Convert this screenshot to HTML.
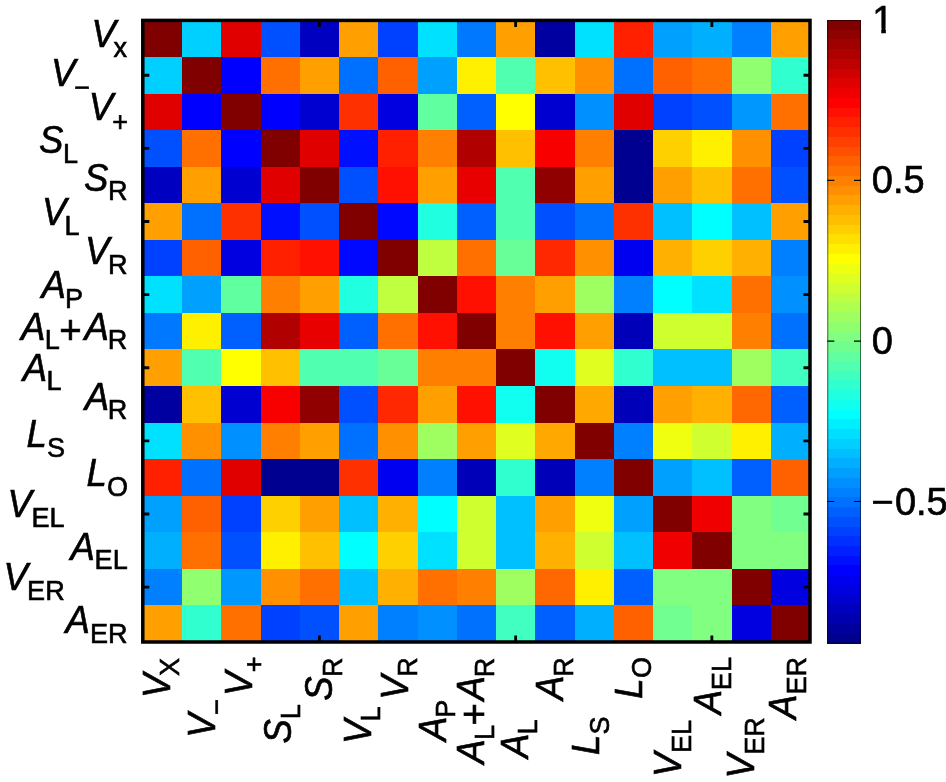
<!DOCTYPE html>
<html lang="en"><head><meta charset="utf-8"><title>Correlation matrix</title>
<style>html,body{margin:0;padding:0;background:#fff}body{width:946px;height:782px;overflow:hidden}svg{display:block}text{font-family:"Liberation Sans",Arial,Helvetica,sans-serif;fill:#000;stroke:#000;stroke-width:0.65px}.i{font-style:italic}.s{font-style:normal}</style>
</head><body>
<svg width="946" height="782" viewBox="0 0 946 782">
<rect width="946" height="782" fill="#fff"/>
<g shape-rendering="crispEdges">
<rect x="142.80" y="20.40" width="39.75" height="37.06" fill="#800000"/>
<rect x="182.05" y="20.40" width="39.75" height="37.06" fill="#00D0FF"/>
<rect x="221.29" y="20.40" width="39.75" height="37.06" fill="#E00000"/>
<rect x="260.54" y="20.40" width="39.75" height="37.06" fill="#0050FF"/>
<rect x="299.79" y="20.40" width="39.75" height="37.06" fill="#0000C0"/>
<rect x="339.04" y="20.40" width="39.75" height="37.06" fill="#FFA000"/>
<rect x="378.28" y="20.40" width="39.75" height="37.06" fill="#0040FF"/>
<rect x="417.53" y="20.40" width="39.75" height="37.06" fill="#00E0FF"/>
<rect x="456.78" y="20.40" width="39.75" height="37.06" fill="#0078FF"/>
<rect x="496.02" y="20.40" width="39.75" height="37.06" fill="#FFA000"/>
<rect x="535.27" y="20.40" width="39.75" height="37.06" fill="#0000A0"/>
<rect x="574.52" y="20.40" width="39.75" height="37.06" fill="#00E0FF"/>
<rect x="613.76" y="20.40" width="39.75" height="37.06" fill="#FF2000"/>
<rect x="653.01" y="20.40" width="39.75" height="37.06" fill="#00A0FF"/>
<rect x="692.26" y="20.40" width="39.75" height="37.06" fill="#00B0FF"/>
<rect x="731.51" y="20.40" width="39.75" height="37.06" fill="#0080FF"/>
<rect x="770.75" y="20.40" width="39.75" height="37.06" fill="#FFA000"/>
<rect x="142.80" y="56.96" width="39.75" height="37.06" fill="#00D0FF"/>
<rect x="182.05" y="56.96" width="39.75" height="37.06" fill="#800000"/>
<rect x="221.29" y="56.96" width="39.75" height="37.06" fill="#0000FF"/>
<rect x="260.54" y="56.96" width="39.75" height="37.06" fill="#FF7000"/>
<rect x="299.79" y="56.96" width="39.75" height="37.06" fill="#FFA000"/>
<rect x="339.04" y="56.96" width="39.75" height="37.06" fill="#0070FF"/>
<rect x="378.28" y="56.96" width="39.75" height="37.06" fill="#FF6000"/>
<rect x="417.53" y="56.96" width="39.75" height="37.06" fill="#00A0FF"/>
<rect x="456.78" y="56.96" width="39.75" height="37.06" fill="#FFF000"/>
<rect x="496.02" y="56.96" width="39.75" height="37.06" fill="#50FFB0"/>
<rect x="535.27" y="56.96" width="39.75" height="37.06" fill="#FFC000"/>
<rect x="574.52" y="56.96" width="39.75" height="37.06" fill="#FF9000"/>
<rect x="613.76" y="56.96" width="39.75" height="37.06" fill="#0070FF"/>
<rect x="653.01" y="56.96" width="39.75" height="37.06" fill="#FF6000"/>
<rect x="692.26" y="56.96" width="39.75" height="37.06" fill="#FF7000"/>
<rect x="731.51" y="56.96" width="39.75" height="37.06" fill="#90FF70"/>
<rect x="770.75" y="56.96" width="39.75" height="37.06" fill="#30FFD0"/>
<rect x="142.80" y="93.53" width="39.75" height="37.06" fill="#E00000"/>
<rect x="182.05" y="93.53" width="39.75" height="37.06" fill="#0000FF"/>
<rect x="221.29" y="93.53" width="39.75" height="37.06" fill="#800000"/>
<rect x="260.54" y="93.53" width="39.75" height="37.06" fill="#0000FF"/>
<rect x="299.79" y="93.53" width="39.75" height="37.06" fill="#0000D0"/>
<rect x="339.04" y="93.53" width="39.75" height="37.06" fill="#FF3000"/>
<rect x="378.28" y="93.53" width="39.75" height="37.06" fill="#0000E0"/>
<rect x="417.53" y="93.53" width="39.75" height="37.06" fill="#60FFA0"/>
<rect x="456.78" y="93.53" width="39.75" height="37.06" fill="#0060FF"/>
<rect x="496.02" y="93.53" width="39.75" height="37.06" fill="#FFFF00"/>
<rect x="535.27" y="93.53" width="39.75" height="37.06" fill="#0000D0"/>
<rect x="574.52" y="93.53" width="39.75" height="37.06" fill="#0090FF"/>
<rect x="613.76" y="93.53" width="39.75" height="37.06" fill="#E00000"/>
<rect x="653.01" y="93.53" width="39.75" height="37.06" fill="#0040FF"/>
<rect x="692.26" y="93.53" width="39.75" height="37.06" fill="#0050FF"/>
<rect x="731.51" y="93.53" width="39.75" height="37.06" fill="#0098FF"/>
<rect x="770.75" y="93.53" width="39.75" height="37.06" fill="#FF7000"/>
<rect x="142.80" y="130.09" width="39.75" height="37.06" fill="#0050FF"/>
<rect x="182.05" y="130.09" width="39.75" height="37.06" fill="#FF7000"/>
<rect x="221.29" y="130.09" width="39.75" height="37.06" fill="#0000FF"/>
<rect x="260.54" y="130.09" width="39.75" height="37.06" fill="#800000"/>
<rect x="299.79" y="130.09" width="39.75" height="37.06" fill="#E00000"/>
<rect x="339.04" y="130.09" width="39.75" height="37.06" fill="#0010FF"/>
<rect x="378.28" y="130.09" width="39.75" height="37.06" fill="#FF2000"/>
<rect x="417.53" y="130.09" width="39.75" height="37.06" fill="#FF8000"/>
<rect x="456.78" y="130.09" width="39.75" height="37.06" fill="#B00000"/>
<rect x="496.02" y="130.09" width="39.75" height="37.06" fill="#FFC000"/>
<rect x="535.27" y="130.09" width="39.75" height="37.06" fill="#F80000"/>
<rect x="574.52" y="130.09" width="39.75" height="37.06" fill="#FF8000"/>
<rect x="613.76" y="130.09" width="39.75" height="37.06" fill="#000090"/>
<rect x="653.01" y="130.09" width="39.75" height="37.06" fill="#FFD000"/>
<rect x="692.26" y="130.09" width="39.75" height="37.06" fill="#FFF000"/>
<rect x="731.51" y="130.09" width="39.75" height="37.06" fill="#FF9000"/>
<rect x="770.75" y="130.09" width="39.75" height="37.06" fill="#0040FF"/>
<rect x="142.80" y="166.66" width="39.75" height="37.06" fill="#0000C0"/>
<rect x="182.05" y="166.66" width="39.75" height="37.06" fill="#FFA000"/>
<rect x="221.29" y="166.66" width="39.75" height="37.06" fill="#0000D0"/>
<rect x="260.54" y="166.66" width="39.75" height="37.06" fill="#E00000"/>
<rect x="299.79" y="166.66" width="39.75" height="37.06" fill="#800000"/>
<rect x="339.04" y="166.66" width="39.75" height="37.06" fill="#0050FF"/>
<rect x="378.28" y="166.66" width="39.75" height="37.06" fill="#FF1000"/>
<rect x="417.53" y="166.66" width="39.75" height="37.06" fill="#FFA000"/>
<rect x="456.78" y="166.66" width="39.75" height="37.06" fill="#E80000"/>
<rect x="496.02" y="166.66" width="39.75" height="37.06" fill="#50FFB0"/>
<rect x="535.27" y="166.66" width="39.75" height="37.06" fill="#900000"/>
<rect x="574.52" y="166.66" width="39.75" height="37.06" fill="#FFA000"/>
<rect x="613.76" y="166.66" width="39.75" height="37.06" fill="#000090"/>
<rect x="653.01" y="166.66" width="39.75" height="37.06" fill="#FFA000"/>
<rect x="692.26" y="166.66" width="39.75" height="37.06" fill="#FFC000"/>
<rect x="731.51" y="166.66" width="39.75" height="37.06" fill="#FF7000"/>
<rect x="770.75" y="166.66" width="39.75" height="37.06" fill="#0050FF"/>
<rect x="142.80" y="203.22" width="39.75" height="37.06" fill="#FFA000"/>
<rect x="182.05" y="203.22" width="39.75" height="37.06" fill="#0070FF"/>
<rect x="221.29" y="203.22" width="39.75" height="37.06" fill="#FF3000"/>
<rect x="260.54" y="203.22" width="39.75" height="37.06" fill="#0010FF"/>
<rect x="299.79" y="203.22" width="39.75" height="37.06" fill="#0050FF"/>
<rect x="339.04" y="203.22" width="39.75" height="37.06" fill="#800000"/>
<rect x="378.28" y="203.22" width="39.75" height="37.06" fill="#0008FF"/>
<rect x="417.53" y="203.22" width="39.75" height="37.06" fill="#20FFE0"/>
<rect x="456.78" y="203.22" width="39.75" height="37.06" fill="#0060FF"/>
<rect x="496.02" y="203.22" width="39.75" height="37.06" fill="#50FFB0"/>
<rect x="535.27" y="203.22" width="39.75" height="37.06" fill="#0050FF"/>
<rect x="574.52" y="203.22" width="39.75" height="37.06" fill="#0070FF"/>
<rect x="613.76" y="203.22" width="39.75" height="37.06" fill="#FF3000"/>
<rect x="653.01" y="203.22" width="39.75" height="37.06" fill="#00C0FF"/>
<rect x="692.26" y="203.22" width="39.75" height="37.06" fill="#00FFFF"/>
<rect x="731.51" y="203.22" width="39.75" height="37.06" fill="#00C0FF"/>
<rect x="770.75" y="203.22" width="39.75" height="37.06" fill="#FFA000"/>
<rect x="142.80" y="239.79" width="39.75" height="37.06" fill="#0040FF"/>
<rect x="182.05" y="239.79" width="39.75" height="37.06" fill="#FF6000"/>
<rect x="221.29" y="239.79" width="39.75" height="37.06" fill="#0000E0"/>
<rect x="260.54" y="239.79" width="39.75" height="37.06" fill="#FF2000"/>
<rect x="299.79" y="239.79" width="39.75" height="37.06" fill="#FF1000"/>
<rect x="339.04" y="239.79" width="39.75" height="37.06" fill="#0008FF"/>
<rect x="378.28" y="239.79" width="39.75" height="37.06" fill="#800000"/>
<rect x="417.53" y="239.79" width="39.75" height="37.06" fill="#C0FF40"/>
<rect x="456.78" y="239.79" width="39.75" height="37.06" fill="#FF7000"/>
<rect x="496.02" y="239.79" width="39.75" height="37.06" fill="#68FF98"/>
<rect x="535.27" y="239.79" width="39.75" height="37.06" fill="#FF2800"/>
<rect x="574.52" y="239.79" width="39.75" height="37.06" fill="#FF9000"/>
<rect x="613.76" y="239.79" width="39.75" height="37.06" fill="#0000F0"/>
<rect x="653.01" y="239.79" width="39.75" height="37.06" fill="#FFB000"/>
<rect x="692.26" y="239.79" width="39.75" height="37.06" fill="#FFD000"/>
<rect x="731.51" y="239.79" width="39.75" height="37.06" fill="#FFB000"/>
<rect x="770.75" y="239.79" width="39.75" height="37.06" fill="#0080FF"/>
<rect x="142.80" y="276.35" width="39.75" height="37.06" fill="#00E0FF"/>
<rect x="182.05" y="276.35" width="39.75" height="37.06" fill="#00A0FF"/>
<rect x="221.29" y="276.35" width="39.75" height="37.06" fill="#60FFA0"/>
<rect x="260.54" y="276.35" width="39.75" height="37.06" fill="#FF8000"/>
<rect x="299.79" y="276.35" width="39.75" height="37.06" fill="#FFA000"/>
<rect x="339.04" y="276.35" width="39.75" height="37.06" fill="#20FFE0"/>
<rect x="378.28" y="276.35" width="39.75" height="37.06" fill="#C0FF40"/>
<rect x="417.53" y="276.35" width="39.75" height="37.06" fill="#800000"/>
<rect x="456.78" y="276.35" width="39.75" height="37.06" fill="#FF1000"/>
<rect x="496.02" y="276.35" width="39.75" height="37.06" fill="#FF8000"/>
<rect x="535.27" y="276.35" width="39.75" height="37.06" fill="#FFA000"/>
<rect x="574.52" y="276.35" width="39.75" height="37.06" fill="#A0FF60"/>
<rect x="613.76" y="276.35" width="39.75" height="37.06" fill="#0080FF"/>
<rect x="653.01" y="276.35" width="39.75" height="37.06" fill="#00FFFF"/>
<rect x="692.26" y="276.35" width="39.75" height="37.06" fill="#00E0FF"/>
<rect x="731.51" y="276.35" width="39.75" height="37.06" fill="#FF7000"/>
<rect x="770.75" y="276.35" width="39.75" height="37.06" fill="#0090FF"/>
<rect x="142.80" y="312.92" width="39.75" height="37.06" fill="#0078FF"/>
<rect x="182.05" y="312.92" width="39.75" height="37.06" fill="#FFF000"/>
<rect x="221.29" y="312.92" width="39.75" height="37.06" fill="#0060FF"/>
<rect x="260.54" y="312.92" width="39.75" height="37.06" fill="#B00000"/>
<rect x="299.79" y="312.92" width="39.75" height="37.06" fill="#E80000"/>
<rect x="339.04" y="312.92" width="39.75" height="37.06" fill="#0060FF"/>
<rect x="378.28" y="312.92" width="39.75" height="37.06" fill="#FF7000"/>
<rect x="417.53" y="312.92" width="39.75" height="37.06" fill="#FF1000"/>
<rect x="456.78" y="312.92" width="39.75" height="37.06" fill="#800000"/>
<rect x="496.02" y="312.92" width="39.75" height="37.06" fill="#FF8000"/>
<rect x="535.27" y="312.92" width="39.75" height="37.06" fill="#FF1000"/>
<rect x="574.52" y="312.92" width="39.75" height="37.06" fill="#FFA000"/>
<rect x="613.76" y="312.92" width="39.75" height="37.06" fill="#0000B8"/>
<rect x="653.01" y="312.92" width="39.75" height="37.06" fill="#D0FF30"/>
<rect x="692.26" y="312.92" width="39.75" height="37.06" fill="#D0FF30"/>
<rect x="731.51" y="312.92" width="39.75" height="37.06" fill="#FF8000"/>
<rect x="770.75" y="312.92" width="39.75" height="37.06" fill="#0070FF"/>
<rect x="142.80" y="349.48" width="39.75" height="37.06" fill="#FFA000"/>
<rect x="182.05" y="349.48" width="39.75" height="37.06" fill="#50FFB0"/>
<rect x="221.29" y="349.48" width="39.75" height="37.06" fill="#FFFF00"/>
<rect x="260.54" y="349.48" width="39.75" height="37.06" fill="#FFC000"/>
<rect x="299.79" y="349.48" width="39.75" height="37.06" fill="#50FFB0"/>
<rect x="339.04" y="349.48" width="39.75" height="37.06" fill="#50FFB0"/>
<rect x="378.28" y="349.48" width="39.75" height="37.06" fill="#68FF98"/>
<rect x="417.53" y="349.48" width="39.75" height="37.06" fill="#FF8000"/>
<rect x="456.78" y="349.48" width="39.75" height="37.06" fill="#FF8000"/>
<rect x="496.02" y="349.48" width="39.75" height="37.06" fill="#800000"/>
<rect x="535.27" y="349.48" width="39.75" height="37.06" fill="#10FFF0"/>
<rect x="574.52" y="349.48" width="39.75" height="37.06" fill="#E0FF20"/>
<rect x="613.76" y="349.48" width="39.75" height="37.06" fill="#30FFD0"/>
<rect x="653.01" y="349.48" width="39.75" height="37.06" fill="#00C0FF"/>
<rect x="692.26" y="349.48" width="39.75" height="37.06" fill="#00C0FF"/>
<rect x="731.51" y="349.48" width="39.75" height="37.06" fill="#A0FF60"/>
<rect x="770.75" y="349.48" width="39.75" height="37.06" fill="#40FFC0"/>
<rect x="142.80" y="386.05" width="39.75" height="37.06" fill="#0000A0"/>
<rect x="182.05" y="386.05" width="39.75" height="37.06" fill="#FFC000"/>
<rect x="221.29" y="386.05" width="39.75" height="37.06" fill="#0000D0"/>
<rect x="260.54" y="386.05" width="39.75" height="37.06" fill="#F80000"/>
<rect x="299.79" y="386.05" width="39.75" height="37.06" fill="#900000"/>
<rect x="339.04" y="386.05" width="39.75" height="37.06" fill="#0050FF"/>
<rect x="378.28" y="386.05" width="39.75" height="37.06" fill="#FF2800"/>
<rect x="417.53" y="386.05" width="39.75" height="37.06" fill="#FFA000"/>
<rect x="456.78" y="386.05" width="39.75" height="37.06" fill="#FF1000"/>
<rect x="496.02" y="386.05" width="39.75" height="37.06" fill="#10FFF0"/>
<rect x="535.27" y="386.05" width="39.75" height="37.06" fill="#800000"/>
<rect x="574.52" y="386.05" width="39.75" height="37.06" fill="#FFA800"/>
<rect x="613.76" y="386.05" width="39.75" height="37.06" fill="#0000B8"/>
<rect x="653.01" y="386.05" width="39.75" height="37.06" fill="#FFA000"/>
<rect x="692.26" y="386.05" width="39.75" height="37.06" fill="#FFB000"/>
<rect x="731.51" y="386.05" width="39.75" height="37.06" fill="#FF6800"/>
<rect x="770.75" y="386.05" width="39.75" height="37.06" fill="#0060FF"/>
<rect x="142.80" y="422.61" width="39.75" height="37.06" fill="#00E0FF"/>
<rect x="182.05" y="422.61" width="39.75" height="37.06" fill="#FF9000"/>
<rect x="221.29" y="422.61" width="39.75" height="37.06" fill="#0090FF"/>
<rect x="260.54" y="422.61" width="39.75" height="37.06" fill="#FF8000"/>
<rect x="299.79" y="422.61" width="39.75" height="37.06" fill="#FFA000"/>
<rect x="339.04" y="422.61" width="39.75" height="37.06" fill="#0070FF"/>
<rect x="378.28" y="422.61" width="39.75" height="37.06" fill="#FF9000"/>
<rect x="417.53" y="422.61" width="39.75" height="37.06" fill="#A0FF60"/>
<rect x="456.78" y="422.61" width="39.75" height="37.06" fill="#FFA000"/>
<rect x="496.02" y="422.61" width="39.75" height="37.06" fill="#E0FF20"/>
<rect x="535.27" y="422.61" width="39.75" height="37.06" fill="#FFA800"/>
<rect x="574.52" y="422.61" width="39.75" height="37.06" fill="#800000"/>
<rect x="613.76" y="422.61" width="39.75" height="37.06" fill="#0080FF"/>
<rect x="653.01" y="422.61" width="39.75" height="37.06" fill="#F0FF10"/>
<rect x="692.26" y="422.61" width="39.75" height="37.06" fill="#D0FF30"/>
<rect x="731.51" y="422.61" width="39.75" height="37.06" fill="#FFF000"/>
<rect x="770.75" y="422.61" width="39.75" height="37.06" fill="#00B0FF"/>
<rect x="142.80" y="459.18" width="39.75" height="37.06" fill="#FF2000"/>
<rect x="182.05" y="459.18" width="39.75" height="37.06" fill="#0070FF"/>
<rect x="221.29" y="459.18" width="39.75" height="37.06" fill="#E00000"/>
<rect x="260.54" y="459.18" width="39.75" height="37.06" fill="#000090"/>
<rect x="299.79" y="459.18" width="39.75" height="37.06" fill="#000090"/>
<rect x="339.04" y="459.18" width="39.75" height="37.06" fill="#FF3000"/>
<rect x="378.28" y="459.18" width="39.75" height="37.06" fill="#0000F0"/>
<rect x="417.53" y="459.18" width="39.75" height="37.06" fill="#0080FF"/>
<rect x="456.78" y="459.18" width="39.75" height="37.06" fill="#0000B8"/>
<rect x="496.02" y="459.18" width="39.75" height="37.06" fill="#30FFD0"/>
<rect x="535.27" y="459.18" width="39.75" height="37.06" fill="#0000B8"/>
<rect x="574.52" y="459.18" width="39.75" height="37.06" fill="#0080FF"/>
<rect x="613.76" y="459.18" width="39.75" height="37.06" fill="#800000"/>
<rect x="653.01" y="459.18" width="39.75" height="37.06" fill="#00A0FF"/>
<rect x="692.26" y="459.18" width="39.75" height="37.06" fill="#00C0FF"/>
<rect x="731.51" y="459.18" width="39.75" height="37.06" fill="#0060FF"/>
<rect x="770.75" y="459.18" width="39.75" height="37.06" fill="#FF6000"/>
<rect x="142.80" y="495.74" width="39.75" height="37.06" fill="#00A0FF"/>
<rect x="182.05" y="495.74" width="39.75" height="37.06" fill="#FF6000"/>
<rect x="221.29" y="495.74" width="39.75" height="37.06" fill="#0040FF"/>
<rect x="260.54" y="495.74" width="39.75" height="37.06" fill="#FFD000"/>
<rect x="299.79" y="495.74" width="39.75" height="37.06" fill="#FFA000"/>
<rect x="339.04" y="495.74" width="39.75" height="37.06" fill="#00C0FF"/>
<rect x="378.28" y="495.74" width="39.75" height="37.06" fill="#FFB000"/>
<rect x="417.53" y="495.74" width="39.75" height="37.06" fill="#00FFFF"/>
<rect x="456.78" y="495.74" width="39.75" height="37.06" fill="#D0FF30"/>
<rect x="496.02" y="495.74" width="39.75" height="37.06" fill="#00C0FF"/>
<rect x="535.27" y="495.74" width="39.75" height="37.06" fill="#FFA000"/>
<rect x="574.52" y="495.74" width="39.75" height="37.06" fill="#F0FF10"/>
<rect x="613.76" y="495.74" width="39.75" height="37.06" fill="#00A0FF"/>
<rect x="653.01" y="495.74" width="39.75" height="37.06" fill="#800000"/>
<rect x="692.26" y="495.74" width="39.75" height="37.06" fill="#F00000"/>
<rect x="731.51" y="495.74" width="39.75" height="37.06" fill="#80FF80"/>
<rect x="770.75" y="495.74" width="39.75" height="37.06" fill="#70FF90"/>
<rect x="142.80" y="532.31" width="39.75" height="37.06" fill="#00B0FF"/>
<rect x="182.05" y="532.31" width="39.75" height="37.06" fill="#FF7000"/>
<rect x="221.29" y="532.31" width="39.75" height="37.06" fill="#0050FF"/>
<rect x="260.54" y="532.31" width="39.75" height="37.06" fill="#FFF000"/>
<rect x="299.79" y="532.31" width="39.75" height="37.06" fill="#FFC000"/>
<rect x="339.04" y="532.31" width="39.75" height="37.06" fill="#00FFFF"/>
<rect x="378.28" y="532.31" width="39.75" height="37.06" fill="#FFD000"/>
<rect x="417.53" y="532.31" width="39.75" height="37.06" fill="#00E0FF"/>
<rect x="456.78" y="532.31" width="39.75" height="37.06" fill="#D0FF30"/>
<rect x="496.02" y="532.31" width="39.75" height="37.06" fill="#00C0FF"/>
<rect x="535.27" y="532.31" width="39.75" height="37.06" fill="#FFB000"/>
<rect x="574.52" y="532.31" width="39.75" height="37.06" fill="#D0FF30"/>
<rect x="613.76" y="532.31" width="39.75" height="37.06" fill="#00C0FF"/>
<rect x="653.01" y="532.31" width="39.75" height="37.06" fill="#F00000"/>
<rect x="692.26" y="532.31" width="39.75" height="37.06" fill="#800000"/>
<rect x="731.51" y="532.31" width="39.75" height="37.06" fill="#80FF80"/>
<rect x="770.75" y="532.31" width="39.75" height="37.06" fill="#80FF80"/>
<rect x="142.80" y="568.87" width="39.75" height="37.06" fill="#0080FF"/>
<rect x="182.05" y="568.87" width="39.75" height="37.06" fill="#90FF70"/>
<rect x="221.29" y="568.87" width="39.75" height="37.06" fill="#0098FF"/>
<rect x="260.54" y="568.87" width="39.75" height="37.06" fill="#FF9000"/>
<rect x="299.79" y="568.87" width="39.75" height="37.06" fill="#FF7000"/>
<rect x="339.04" y="568.87" width="39.75" height="37.06" fill="#00C0FF"/>
<rect x="378.28" y="568.87" width="39.75" height="37.06" fill="#FFB000"/>
<rect x="417.53" y="568.87" width="39.75" height="37.06" fill="#FF7000"/>
<rect x="456.78" y="568.87" width="39.75" height="37.06" fill="#FF8000"/>
<rect x="496.02" y="568.87" width="39.75" height="37.06" fill="#A0FF60"/>
<rect x="535.27" y="568.87" width="39.75" height="37.06" fill="#FF6800"/>
<rect x="574.52" y="568.87" width="39.75" height="37.06" fill="#FFF000"/>
<rect x="613.76" y="568.87" width="39.75" height="37.06" fill="#0060FF"/>
<rect x="653.01" y="568.87" width="39.75" height="37.06" fill="#80FF80"/>
<rect x="692.26" y="568.87" width="39.75" height="37.06" fill="#80FF80"/>
<rect x="731.51" y="568.87" width="39.75" height="37.06" fill="#800000"/>
<rect x="770.75" y="568.87" width="39.75" height="37.06" fill="#0000E0"/>
<rect x="142.80" y="605.44" width="39.75" height="37.06" fill="#FFA000"/>
<rect x="182.05" y="605.44" width="39.75" height="37.06" fill="#30FFD0"/>
<rect x="221.29" y="605.44" width="39.75" height="37.06" fill="#FF7000"/>
<rect x="260.54" y="605.44" width="39.75" height="37.06" fill="#0040FF"/>
<rect x="299.79" y="605.44" width="39.75" height="37.06" fill="#0050FF"/>
<rect x="339.04" y="605.44" width="39.75" height="37.06" fill="#FFA000"/>
<rect x="378.28" y="605.44" width="39.75" height="37.06" fill="#0080FF"/>
<rect x="417.53" y="605.44" width="39.75" height="37.06" fill="#0090FF"/>
<rect x="456.78" y="605.44" width="39.75" height="37.06" fill="#0070FF"/>
<rect x="496.02" y="605.44" width="39.75" height="37.06" fill="#40FFC0"/>
<rect x="535.27" y="605.44" width="39.75" height="37.06" fill="#0060FF"/>
<rect x="574.52" y="605.44" width="39.75" height="37.06" fill="#00B0FF"/>
<rect x="613.76" y="605.44" width="39.75" height="37.06" fill="#FF6000"/>
<rect x="653.01" y="605.44" width="39.75" height="37.06" fill="#70FF90"/>
<rect x="692.26" y="605.44" width="39.75" height="37.06" fill="#80FF80"/>
<rect x="731.51" y="605.44" width="39.75" height="37.06" fill="#0000E0"/>
<rect x="770.75" y="605.44" width="39.75" height="37.06" fill="#800000"/>
</g>
<g shape-rendering="crispEdges">
<rect x="827.3" y="20.00" width="33.70" height="10.24" fill="#800000"/>
<rect x="827.3" y="29.74" width="33.70" height="10.24" fill="#8F0000"/>
<rect x="827.3" y="39.48" width="33.70" height="10.24" fill="#9F0000"/>
<rect x="827.3" y="49.22" width="33.70" height="10.24" fill="#AF0000"/>
<rect x="827.3" y="58.96" width="33.70" height="10.24" fill="#BF0000"/>
<rect x="827.3" y="68.70" width="33.70" height="10.24" fill="#CF0000"/>
<rect x="827.3" y="78.44" width="33.70" height="10.24" fill="#DF0000"/>
<rect x="827.3" y="88.18" width="33.70" height="10.24" fill="#EF0000"/>
<rect x="827.3" y="97.92" width="33.70" height="10.24" fill="#FF0000"/>
<rect x="827.3" y="107.67" width="33.70" height="10.24" fill="#FF1000"/>
<rect x="827.3" y="117.41" width="33.70" height="10.24" fill="#FF2000"/>
<rect x="827.3" y="127.15" width="33.70" height="10.24" fill="#FF3000"/>
<rect x="827.3" y="136.89" width="33.70" height="10.24" fill="#FF4000"/>
<rect x="827.3" y="146.63" width="33.70" height="10.24" fill="#FF5000"/>
<rect x="827.3" y="156.37" width="33.70" height="10.24" fill="#FF6000"/>
<rect x="827.3" y="166.11" width="33.70" height="10.24" fill="#FF7000"/>
<rect x="827.3" y="175.85" width="33.70" height="10.24" fill="#FF8000"/>
<rect x="827.3" y="185.59" width="33.70" height="10.24" fill="#FF8F00"/>
<rect x="827.3" y="195.33" width="33.70" height="10.24" fill="#FF9F00"/>
<rect x="827.3" y="205.07" width="33.70" height="10.24" fill="#FFAF00"/>
<rect x="827.3" y="214.81" width="33.70" height="10.24" fill="#FFBF00"/>
<rect x="827.3" y="224.55" width="33.70" height="10.24" fill="#FFCF00"/>
<rect x="827.3" y="234.29" width="33.70" height="10.24" fill="#FFDF00"/>
<rect x="827.3" y="244.03" width="33.70" height="10.24" fill="#FFEF00"/>
<rect x="827.3" y="253.77" width="33.70" height="10.24" fill="#FFFF00"/>
<rect x="827.3" y="263.52" width="33.70" height="10.24" fill="#EFFF10"/>
<rect x="827.3" y="273.26" width="33.70" height="10.24" fill="#DFFF20"/>
<rect x="827.3" y="283.00" width="33.70" height="10.24" fill="#CFFF30"/>
<rect x="827.3" y="292.74" width="33.70" height="10.24" fill="#BFFF40"/>
<rect x="827.3" y="302.48" width="33.70" height="10.24" fill="#AFFF50"/>
<rect x="827.3" y="312.22" width="33.70" height="10.24" fill="#9FFF60"/>
<rect x="827.3" y="321.96" width="33.70" height="10.24" fill="#8FFF70"/>
<rect x="827.3" y="331.70" width="33.70" height="10.24" fill="#80FF80"/>
<rect x="827.3" y="341.44" width="33.70" height="10.24" fill="#70FF8F"/>
<rect x="827.3" y="351.18" width="33.70" height="10.24" fill="#60FF9F"/>
<rect x="827.3" y="360.92" width="33.70" height="10.24" fill="#50FFAF"/>
<rect x="827.3" y="370.66" width="33.70" height="10.24" fill="#40FFBF"/>
<rect x="827.3" y="380.40" width="33.70" height="10.24" fill="#30FFCF"/>
<rect x="827.3" y="390.14" width="33.70" height="10.24" fill="#20FFDF"/>
<rect x="827.3" y="399.88" width="33.70" height="10.24" fill="#10FFEF"/>
<rect x="827.3" y="409.62" width="33.70" height="10.24" fill="#00FFFF"/>
<rect x="827.3" y="419.37" width="33.70" height="10.24" fill="#00EFFF"/>
<rect x="827.3" y="429.11" width="33.70" height="10.24" fill="#00DFFF"/>
<rect x="827.3" y="438.85" width="33.70" height="10.24" fill="#00CFFF"/>
<rect x="827.3" y="448.59" width="33.70" height="10.24" fill="#00BFFF"/>
<rect x="827.3" y="458.33" width="33.70" height="10.24" fill="#00AFFF"/>
<rect x="827.3" y="468.07" width="33.70" height="10.24" fill="#009FFF"/>
<rect x="827.3" y="477.81" width="33.70" height="10.24" fill="#008FFF"/>
<rect x="827.3" y="487.55" width="33.70" height="10.24" fill="#0080FF"/>
<rect x="827.3" y="497.29" width="33.70" height="10.24" fill="#0070FF"/>
<rect x="827.3" y="507.03" width="33.70" height="10.24" fill="#0060FF"/>
<rect x="827.3" y="516.77" width="33.70" height="10.24" fill="#0050FF"/>
<rect x="827.3" y="526.51" width="33.70" height="10.24" fill="#0040FF"/>
<rect x="827.3" y="536.25" width="33.70" height="10.24" fill="#0030FF"/>
<rect x="827.3" y="545.99" width="33.70" height="10.24" fill="#0020FF"/>
<rect x="827.3" y="555.73" width="33.70" height="10.24" fill="#0010FF"/>
<rect x="827.3" y="565.48" width="33.70" height="10.24" fill="#0000FF"/>
<rect x="827.3" y="575.22" width="33.70" height="10.24" fill="#0000EF"/>
<rect x="827.3" y="584.96" width="33.70" height="10.24" fill="#0000DF"/>
<rect x="827.3" y="594.70" width="33.70" height="10.24" fill="#0000CF"/>
<rect x="827.3" y="604.44" width="33.70" height="10.24" fill="#0000BF"/>
<rect x="827.3" y="614.18" width="33.70" height="10.24" fill="#0000AF"/>
<rect x="827.3" y="623.92" width="33.70" height="10.24" fill="#00009F"/>
<rect x="827.3" y="633.66" width="33.70" height="10.24" fill="#00008F"/>
</g>
<rect x="827.8" y="20.5" width="32.70" height="622.40" fill="none" stroke="#000" stroke-opacity="0.55" stroke-width="1"/>
<clipPath id="c1"><rect x="872.3" y="0" width="30" height="28"/><rect x="881.3" y="0" width="4.5" height="40"/></clipPath>
<text x="872.3" y="32.8" font-size="38" clip-path="url(#c1)">1</text>
<path d="M827.3 180.3h7M861.0 180.3h-7" stroke="#000" stroke-width="1.2" fill="none"/>
<text x="871.8" y="193.3" font-size="38">0.5</text>
<path d="M827.3 341.2h7M861.0 341.2h-7" stroke="#000" stroke-width="1.2" fill="none"/>
<text x="871.8" y="354.2" font-size="38">0</text>
<path d="M827.3 501.5h7M861.0 501.5h-7" stroke="#000" stroke-width="1.2" fill="none"/>
<text x="871.5" y="514.5" font-size="38">−<tspan dx="1.2">0.5</tspan></text>
<rect x="142.8" y="20.4" width="667.20" height="621.60" fill="none" stroke="#000" stroke-width="3.5"/>
<path d="M142.8 75.25h6.5M810.0 75.25h-6.5M142.8 148.38h6.5M810.0 148.38h-6.5M142.8 221.51h6.5M810.0 221.51h-6.5M142.8 294.64h6.5M810.0 294.64h-6.5M142.8 367.76h6.5M810.0 367.76h-6.5M142.8 440.89h6.5M810.0 440.89h-6.5M142.8 514.02h6.5M810.0 514.02h-6.5M142.8 587.15h6.5M810.0 587.15h-6.5M319.41 20.4v6.5M319.41 642.0v-6.5M515.65 20.4v6.5M515.65 642.0v-6.5M711.88 20.4v6.5M711.88 642.0v-6.5" stroke="#000" stroke-width="2.8" fill="none"/>
<text transform="translate(91.38 47.35) scale(0.95 1)" font-size="38.5"><tspan class="i">V</tspan><tspan class="s" font-size="28.5" dy="9.5" dx="-2.3">x</tspan></text>
<text transform="translate(51.1 85.5) scale(0.95 1)" font-size="38.5"><tspan class="i">V</tspan><tspan class="s" font-size="28.5" dy="11.5" dx="-1.39">−</tspan></text>
<text transform="translate(88.65 119.5) scale(0.95 1)" font-size="38.5"><tspan class="i">V</tspan><tspan class="s" font-size="28.5" dy="11.5" dx="-0.74">+</tspan></text>
<text transform="translate(38.99 153.03) scale(0.95 1)" font-size="38.5"><tspan class="i">S</tspan><tspan class="s" font-size="28.5" dy="9.5" dx="-0.39">L</tspan></text>
<text transform="translate(84.12 190.59) scale(0.95 1)" font-size="38.5"><tspan class="i">S</tspan><tspan class="s" font-size="28.5" dy="9.5" dx="-0.66">R</tspan></text>
<text transform="translate(42.0 225.25) scale(0.95 1)" font-size="38.5"><tspan class="i">V</tspan><tspan class="s" font-size="28.5" dy="9.5" dx="-1.9">L</tspan></text>
<text transform="translate(84.89 264.15) scale(0.95 1)" font-size="38.5"><tspan class="i">V</tspan><tspan class="s" font-size="28.5" dy="9.5" dx="-1.26">R</tspan></text>
<text transform="translate(41.5 298.05) scale(0.95 1)" font-size="38.5"><tspan class="i">A</tspan><tspan class="s" font-size="28.5" dy="9.5" dx="-1.07">P</tspan></text>
<text transform="translate(21.12 339.95) scale(0.95 1)" font-size="38.5"><tspan class="i">A</tspan><tspan class="s" font-size="28.5" dy="9.5" dx="-0.69">L</tspan><tspan class="s" dx="-0.6" dy="-5.5" font-size="40.5">+</tspan><tspan class="i" dx="2.7" dy="-4">A</tspan><tspan class="s" font-size="28.5" dy="9.5" dx="-1.21">R</tspan></text>
<text transform="translate(22.85 380.8) scale(0.95 1)" font-size="38.5"><tspan class="i">A</tspan><tspan class="s" font-size="28.5" dy="9.5" dx="-0.69">L</tspan></text>
<text transform="translate(84.63 409.9) scale(0.95 1)" font-size="38.5"><tspan class="i">A</tspan><tspan class="s" font-size="28.5" dy="9.5" dx="-1.21">R</tspan></text>
<text transform="translate(26.5 447.06) scale(0.95 1)" font-size="38.5"><tspan class="i">L</tspan><tspan class="s" font-size="28.5" dy="9.5" dx="0.29">S</tspan></text>
<text transform="translate(86.38 486.26) scale(0.95 1)" font-size="38.5"><tspan class="i">L</tspan><tspan class="s" font-size="28.5" dy="9.5" dx="0.39">O</tspan></text>
<text transform="translate(7.55 517.25) scale(0.95 1)" font-size="38.5"><tspan class="i">V</tspan><tspan class="s" font-size="28.5" dy="9.5" dx="-0.49">EL</tspan></text>
<text transform="translate(70.5 559.8) scale(0.95 1)" font-size="38.5"><tspan class="i">A</tspan><tspan class="s" font-size="28.5" dy="9.5" dx="-0.3">EL</tspan></text>
<text transform="translate(3.39 590.0) scale(0.95 1)" font-size="38.5"><tspan class="i">V</tspan><tspan class="s" font-size="28.5" dy="9.5" dx="-0.73">ER</tspan></text>
<text transform="translate(65.38 633.0) scale(0.95 1)" font-size="38.5"><tspan class="i">A</tspan><tspan class="s" font-size="28.5" dy="9.5" dx="0.17">ER</tspan></text>
<text transform="translate(169.8 698.01) rotate(-90) scale(0.95 1)" font-size="38.5"><tspan class="i">V</tspan><tspan class="s" font-size="28.5" dy="9.5" dx="-2.45">X</tspan></text>
<text transform="translate(214.55 737.78) rotate(-90) scale(0.95 1)" font-size="38.5"><tspan class="i">V</tspan><tspan class="s" font-size="28.5" dy="11.5" dx="-1.39">−</tspan></text>
<text transform="translate(251.65 695.89) rotate(-90) scale(0.95 1)" font-size="38.5"><tspan class="i">V</tspan><tspan class="s" font-size="28.5" dy="11.5" dx="-0.74">+</tspan></text>
<text transform="translate(290.56 743.38) rotate(-90) scale(0.95 1)" font-size="38.5"><tspan class="i">S</tspan><tspan class="s" font-size="28.5" dy="9.5" dx="-0.39">L</tspan></text>
<text transform="translate(332.08 700.82) rotate(-90) scale(0.95 1)" font-size="38.5"><tspan class="i">S</tspan><tspan class="s" font-size="28.5" dy="9.5" dx="-0.66">R</tspan></text>
<text transform="translate(370.75 744.06) rotate(-90) scale(0.95 1)" font-size="38.5"><tspan class="i">V</tspan><tspan class="s" font-size="28.5" dy="9.5" dx="-1.9">L</tspan></text>
<text transform="translate(407.65 699.86) rotate(-90) scale(0.95 1)" font-size="38.5"><tspan class="i">V</tspan><tspan class="s" font-size="28.5" dy="9.5" dx="-1.26">R</tspan></text>
<text transform="translate(445.75 741.06) rotate(-90) scale(0.95 1)" font-size="38.5"><tspan class="i">A</tspan><tspan class="s" font-size="28.5" dy="9.5" dx="-1.07">P</tspan></text>
<text transform="translate(484.15 763.73) rotate(-90) scale(0.95 1)" font-size="38.5"><tspan class="i">A</tspan><tspan class="s" font-size="28.5" dy="9.5" dx="-0.69">L</tspan><tspan class="s" dx="-0.6" dy="-5.5" font-size="40.5">+</tspan><tspan class="i" dx="2.7" dy="-4">A</tspan><tspan class="s" font-size="28.5" dy="9.5" dx="-1.21">R</tspan></text>
<text transform="translate(527.9 758.11) rotate(-90) scale(0.95 1)" font-size="38.5"><tspan class="i">A</tspan><tspan class="s" font-size="28.5" dy="9.5" dx="-0.69">L</tspan></text>
<text transform="translate(563.0 700.06) rotate(-90) scale(0.95 1)" font-size="38.5"><tspan class="i">A</tspan><tspan class="s" font-size="28.5" dy="9.5" dx="-1.21">R</tspan></text>
<text transform="translate(599.2 755.08) rotate(-90) scale(0.95 1)" font-size="38.5"><tspan class="i">L</tspan><tspan class="s" font-size="28.5" dy="9.5" dx="0.29">S</tspan></text>
<text transform="translate(641.71 698.64) rotate(-90) scale(0.95 1)" font-size="38.5"><tspan class="i">L</tspan><tspan class="s" font-size="28.5" dy="9.5" dx="0.39">O</tspan></text>
<text transform="translate(681.25 776.93) rotate(-90) scale(0.95 1)" font-size="38.5"><tspan class="i">V</tspan><tspan class="s" font-size="28.5" dy="9.5" dx="-0.49">EL</tspan></text>
<text transform="translate(721.25 714.26) rotate(-90) scale(0.95 1)" font-size="38.5"><tspan class="i">A</tspan><tspan class="s" font-size="28.5" dy="9.5" dx="-0.3">EL</tspan></text>
<text transform="translate(754.0 778.4) rotate(-90) scale(0.95 1)" font-size="38.5"><tspan class="i">V</tspan><tspan class="s" font-size="28.5" dy="9.5" dx="-0.73">ER</tspan></text>
<text transform="translate(796.2 719.0) rotate(-90) scale(0.95 1)" font-size="38.5"><tspan class="i">A</tspan><tspan class="s" font-size="28.5" dy="9.5" dx="0.17">ER</tspan></text>
</svg>
</body></html>
